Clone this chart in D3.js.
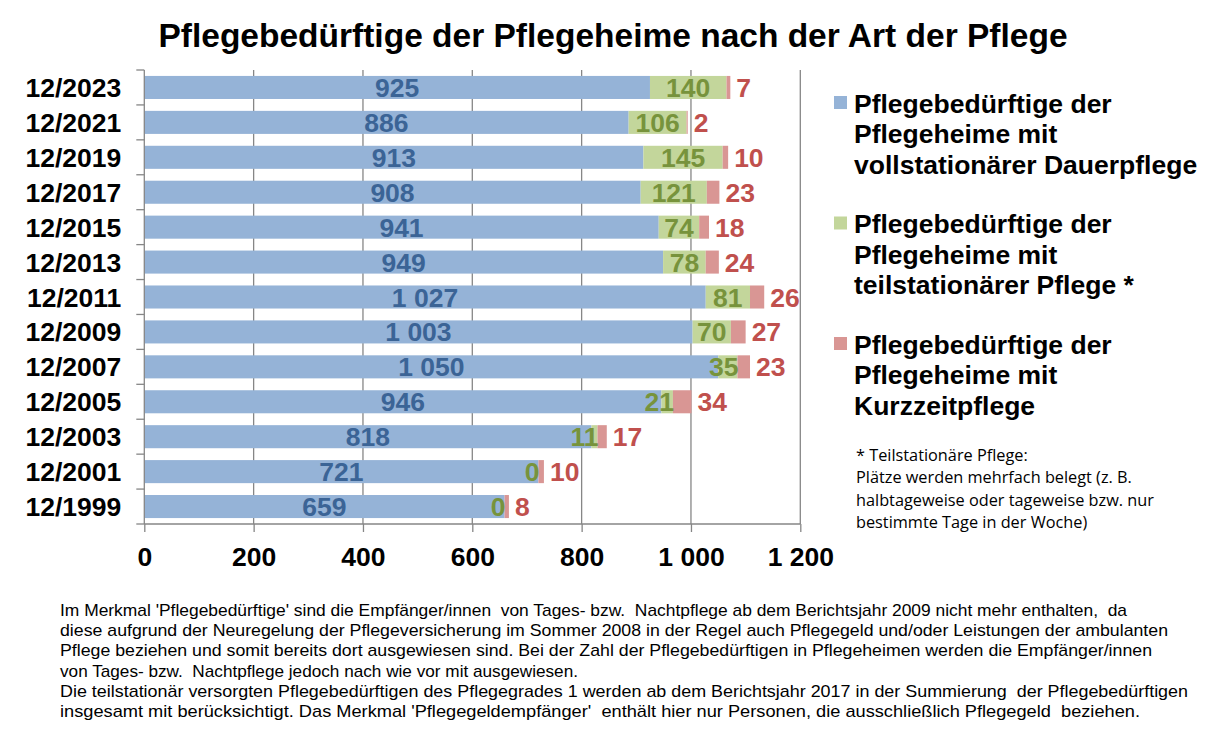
<!DOCTYPE html>
<html>
<head>
<meta charset="utf-8">
<script src="https://cdn.jsdelivr.net/npm/d3@7"></script>
<style>
  body { margin: 0; background: #fff; }
  svg { font-family: "Liberation Sans", Arial, sans-serif; }
</style>
</head>
<body>
<svg id="chart" width="1226" height="735"></svg>
<script>
// categories, top to bottom
var years = ["12/2023", "12/2021", "12/2019", "12/2017", "12/2015", "12/2013", "12/2011",
             "12/2009", "12/2007", "12/2005", "12/2003", "12/2001", "12/1999"];
// vollstationaere Dauerpflege (1000)
var dauer = [925, 886, 913, 908, 941, 949, 1027, 1003, 1050, 946, 818, 721, 659];
// teilstationaere Pflege
var teil = [140, 106, 145, 121, 74, 78, 81, 70, 35, 21, 11, 0, 0];
// Kurzzeitpflege
var kurz = [7, 2, 10, 23, 18, 24, 26, 27, 23, 34, 17, 10, 8];
var xTicks = [0, 200, 400, 600, 800, 1000, 1200];

var seriesNames = [
  ["Pflegebedürftige der", "Pflegeheime mit", "vollstationärer Dauerpflege"],
  ["Pflegebedürftige der", "Pflegeheime mit", "teilstationärer Pflege *"],
  ["Pflegebedürftige der", "Pflegeheime mit", "Kurzzeitpflege"]
];
var fills = ["#95b3d7", "#c3d69b", "#d99694"];
var labelColors = ["#3b6496", "#77933c", "#c0504d"];

var title = "Pflegebedürftige der Pflegeheime nach der Art der Pflege";
var asteriskNote = ["* Teilstationäre Pflege:", "Plätze werden mehrfach belegt (z. B.",
                    "halbtageweise oder tageweise bzw. nur", "bestimmte Tage in der Woche)"];
var footNote = [
  "Im Merkmal 'Pflegebedürftige' sind die Empfänger/innen  von Tages- bzw.  Nachtpflege ab dem Berichtsjahr 2009 nicht mehr enthalten,  da",
  "diese aufgrund der Neuregelung der Pflegeversicherung im Sommer 2008 in der Regel auch Pflegegeld und/oder Leistungen der ambulanten",
  "Pflege beziehen und somit bereits dort ausgewiesen sind. Bei der Zahl der Pflegebedürftigen in Pflegeheimen werden die Empfänger/innen",
  "von Tages- bzw.  Nachtpflege jedoch nach wie vor mit ausgewiesen.",
  "Die teilstationär versorgten Pflegebedürftigen des Pflegegrades 1 werden ab dem Berichtsjahr 2017 in der Summierung  der Pflegebedürftigen",
  "insgesamt mit berücksichtigt. Das Merkmal 'Pflegegeldempfänger'  enthält hier nur Personen, die ausschließlich Pflegegeld  beziehen."
];
// rough right edge of each foot note line in the original
var footEnds = [1127, 1168, 1152, 578, 1188, 1140];

var fmt = d3.formatLocale({ decimal: ",", thousands: " ", grouping: [3], currency: ["", ""] }).format(",d");

var svg = d3.select("#chart");

var x = d3.scaleLinear().domain([0, 1200]).range([144.3, 800.3]);
var y = d3.scaleBand().domain(years).range([70, 524]).paddingInner(0.34).paddingOuter(0.17);

var big = "26.5px";

// title
svg.append("text")
  .attr("x", 613).attr("y", 47)
  .attr("text-anchor", "middle")
  .style("font-weight", "bold").style("font-size", "33.5px")
  .text(title);

// gridlines
svg.append("g")
  .selectAll("line")
  .data(xTicks.slice(1))
  .enter().append("line")
    .attr("x1", function(d) { return x(d); })
    .attr("x2", function(d) { return x(d); })
    .attr("y1", 70).attr("y2", 524)
    .attr("stroke", "#868686").attr("stroke-width", 1.3);

// stacked data
var rows = years.map(function(yr, i) {
  var vals = [dauer[i], teil[i], kurz[i]];
  var start = 0;
  return vals.map(function(v, k) {
    var seg = { year: yr, k: k, v: v, x0: start, x1: start + v };
    start += v;
    return seg;
  });
});

var segs = [].concat.apply([], rows);

svg.append("g")
  .selectAll("rect")
  .data(segs)
  .enter().append("rect")
    .attr("x", function(d) { return x(d.x0); })
    .attr("width", function(d) { return x(d.x1) - x(d.x0); })
    .attr("y", function(d) { return y(d.year); })
    .attr("height", y.bandwidth())
    .attr("fill", function(d) { return fills[d.k]; });

// narrow green segments get their label pushed left, ending at the segment end
function isNarrow(d) { return d.k === 1 && d.v < 40; }

// value labels
svg.append("g")
  .selectAll("text")
  .data(segs)
  .enter().append("text")
    .attr("x", function(d) {
      if (d.k === 2) return x(d.x1) + 6;
      if (isNarrow(d)) return x(d.x1) + 1;
      return x((d.x0 + d.x1) / 2);
    })
    .attr("y", function(d) { return y(d.year) + y.bandwidth() / 2 + 9.5; })
    .attr("text-anchor", function(d) {
      if (d.k === 2) return "start";
      return isNarrow(d) ? "end" : "middle";
    })
    .attr("fill", function(d) { return labelColors[d.k]; })
    .style("font-weight", "bold").style("font-size", big)
    .text(function(d) { return fmt(d.v); });

// y axis
var yAxis = svg.append("g").attr("transform", "translate(144.3,0)");
yAxis.append("line")
  .attr("y1", 70).attr("y2", 524)
  .attr("stroke", "#868686").attr("stroke-width", 1.3);
yAxis.selectAll("line.tick")
  .data(d3.range(years.length + 1))
  .enter().append("line")
    .attr("class", "tick")
    .attr("x1", -8).attr("x2", 0)
    .attr("y1", function(i) { return 70 + i * 454 / years.length; })
    .attr("y2", function(i) { return 70 + i * 454 / years.length; })
    .attr("stroke", "#868686").attr("stroke-width", 1.3);
yAxis.selectAll("text")
  .data(years)
  .enter().append("text")
    .attr("x", -23)
    .attr("y", function(d) { return y(d) + y.bandwidth() / 2 + 9.5; })
    .attr("text-anchor", "end")
    .style("font-weight", "bold").style("font-size", big)
    .text(function(d) { return d; });

// x axis
var xAxis = svg.append("g")
  .attr("transform", "translate(0,524)")
  .call(d3.axisBottom(x).tickValues(xTicks).tickSize(8).tickPadding(15).tickFormat(fmt));
xAxis.select(".domain").attr("stroke", "#868686").attr("stroke-width", 1.3)
  .attr("d", "M144.3,0H800.3");
xAxis.selectAll(".tick line").attr("stroke", "#868686").attr("stroke-width", 1.3);
xAxis.selectAll(".tick text")
  .attr("fill", "#000")
  .style("font-family", "'Liberation Sans', Arial, sans-serif")
  .style("font-weight", "bold").style("font-size", big);

// legend
var legend = svg.append("g");
seriesNames.forEach(function(lines, k) {
  var top = 103 + k * 120.5;
  legend.append("rect")
    .attr("x", 834).attr("y", top - 7)
    .attr("width", 13).attr("height", 13)
    .attr("fill", fills[k]);
  lines.forEach(function(line, j) {
    legend.append("text")
      .attr("x", 854).attr("y", top + 9.5 + j * 30.5)
      .style("font-weight", "bold").style("font-size", big)
      .text(line);
  });
});

// asterisk note
svg.append("g")
  .selectAll("text")
  .data(asteriskNote)
  .enter().append("text")
    .attr("x", 856)
    .attr("y", function(d, i) { return 461 + i * 22.3; })
    .style("font-family", "'Open Sans', 'Noto Sans', sans-serif")
    .style("font-size", "16.3px")
    .text(function(d) { return d; });

// foot note
svg.append("g")
  .selectAll("text")
  .data(footNote)
  .enter().append("text")
    .attr("x", 60)
    .attr("y", function(d, i) { return 616 + i * 20.2; })
    .attr("textLength", function(d, i) { return footEnds[i] - 60; })
    .attr("lengthAdjust", "spacingAndGlyphs")
    .attr("xml:space", "preserve")
    .style("font-size", "17px")
    .text(function(d) { return d; });
</script>
</body>
</html>
